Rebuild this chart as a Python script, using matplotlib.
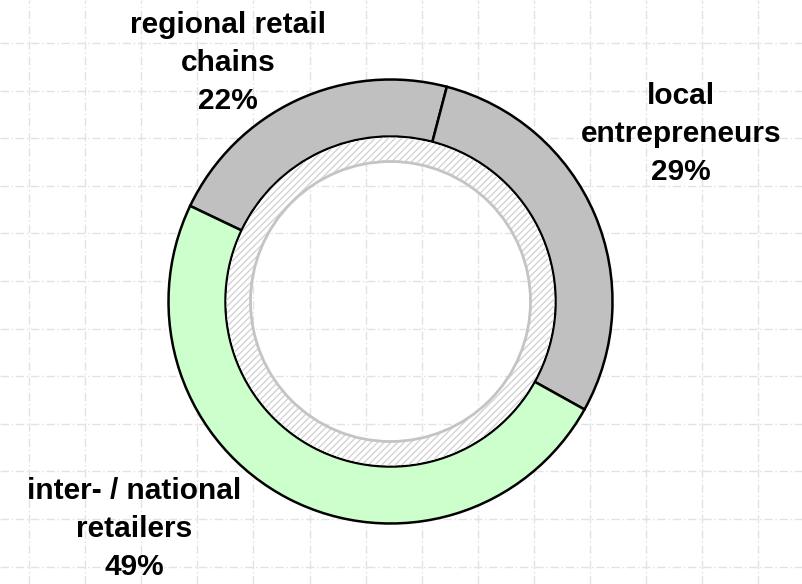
import matplotlib.pyplot as plt
import numpy as np

# Data
labels = ["regional retail\nchains", "local\nentrepreneurs", "inter- / national\nretailers"]
shares = [22, 29, 49]
colors = ["#c0c0c0", "#c0c0c0", "#ccffcc"]

W, H = 802, 584
CX, CY = 390.5, H - 301.5
R_OUT, R_IN, R_HATCH = 222, 165, 140

plt.rcParams["font.family"] = ["Liberation Sans", "DejaVu Sans"]
plt.rcParams["hatch.linewidth"] = 1.0

fig = plt.figure(figsize=(W / 100, H / 100), dpi=100)
ax = fig.add_axes([0, 0, 1, 1])

# main ring
ax.pie(
    shares,
    colors=colors,
    radius=R_OUT,
    center=(CX, CY),
    startangle=154.5,
    counterclock=False,
    wedgeprops=dict(width=R_OUT - R_IN, edgecolor="black", linewidth=1.8),
)

# hatched inner band
ax.pie(
    [1],
    colors=["white"],
    radius=R_IN - 1,
    center=(CX, CY),
    wedgeprops=dict(width=R_IN - 1 - R_HATCH, edgecolor="#d4d4d4", linewidth=0, hatch="/////"),
)
ax.add_patch(plt.Circle((CX, CY), R_HATCH, fill=False, edgecolor="#c4c4c4", linewidth=2, zorder=3))

ax.set_xlim(0, W)
ax.set_ylim(0, H)
ax.set_aspect("auto")
ax.axis("off")

# background grid
for gx in np.arange(29, W, 56.1):
    ax.axvline(gx, color="#e2e2e2", linewidth=1, linestyle=(0, (6, 2, 1, 2)), zorder=0)
for gy in np.arange(43, H, 47.6):
    ax.axhline(H - gy, color="#e2e2e2", linewidth=1, linestyle=(0, (6, 2, 1, 2)), zorder=0)

# labels
label_pos = [(228, 63), (681, 134), (134, 529)]
for lab, s, (lx, ly) in zip(labels, shares, label_pos):
    ax.text(lx, H - ly, f"{lab}\n{s}%", ha="center", va="center",
            fontsize=21.5, fontweight="bold", linespacing=1.45, zorder=5)

fig.savefig("out.png", dpi=100)
